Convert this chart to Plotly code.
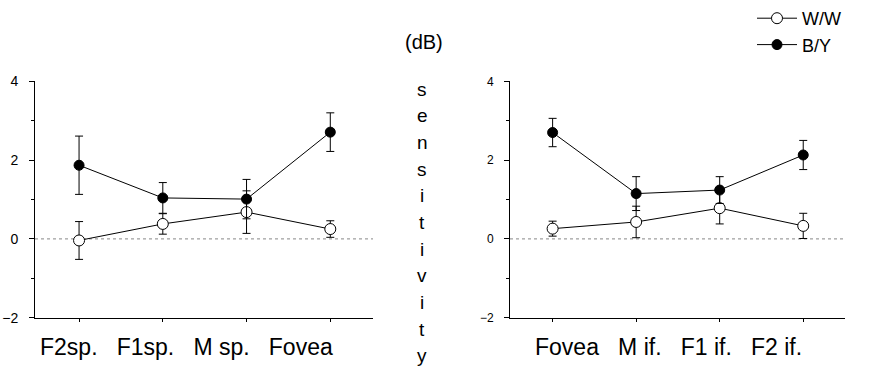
import plotly.graph_objects as go

# Left panel: spatial-frequency conditions
left_cats = ["F2sp.", "F1sp.", "M sp.", "Fovea"]
left_ww = [-0.04, 0.38, 0.68, 0.25]
left_ww_err = [0.48, 0.26, 0.54, 0.21]
left_by = [1.87, 1.04, 1.01, 2.71]
left_by_err = [0.74, 0.39, 0.50, 0.49]

# Right panel: inferior-field conditions
right_cats = ["Fovea", "M if.", "F1 if.", "F2 if."]
right_ww = [0.26, 0.43, 0.78, 0.33]
right_ww_err = [0.19, 0.40, 0.40, 0.32]
right_by = [2.70, 1.15, 1.24, 2.13]
right_by_err = [0.36, 0.43, 0.34, 0.37]

series_names = ["W/W", "B/Y"]
y_ticks = [-2, 0, 2, 4]
unit_label = "(dB)"
axis_word = "sensitivity"

W, H = 872, 377
BASE_FONT = "Liberation Sans, Arial, sans-serif"
NARROW_FONT = "Liberation Sans Narrow, Arial Narrow, Liberation Sans, sans-serif"

fig = go.Figure()


def add_panel(cats, ww, ww_err, by, by_err, xa, ya, show_legend):
    common = dict(xaxis=xa, yaxis=ya, mode="lines+markers",
                  line=dict(color="black", width=1))
    fig.add_trace(go.Scatter(
        x=cats, y=ww, name=series_names[0], showlegend=show_legend,
        marker=dict(symbol="circle", size=11, color="white",
                    line=dict(color="black", width=1)),
        error_y=dict(type="data", array=ww_err, color="black",
                     thickness=1, width=4),
        **common))
    fig.add_trace(go.Scatter(
        x=cats, y=by, name=series_names[1], showlegend=show_legend,
        marker=dict(symbol="circle", size=10, color="black",
                    line=dict(color="black", width=1)),
        error_y=dict(type="data", array=by_err, color="black",
                     thickness=1, width=4),
        **common))


add_panel(left_cats, left_ww, left_ww_err, left_by, left_by_err, "x", "y", True)
add_panel(right_cats, right_ww, right_ww_err, right_by, right_by_err, "x2", "y2", False)

y_dom = [1 - 322.5 / H, 1 - 71.5 / H]

xaxis_common = dict(type="category", showgrid=False, zeroline=False,
                    showline=True, linecolor="black", linewidth=1,
                    ticks="outside", ticklen=3, tickcolor="black",
                    showticklabels=False)
yaxis_common = dict(range=[-2, 4], tickvals=y_ticks, showgrid=False,
                    zeroline=False, showline=True, linecolor="black",
                    linewidth=1, ticks="outside", ticklen=5,
                    tickcolor="black",
                    minor=dict(dtick=1, ticks="outside", ticklen=3,
                               tickcolor="black"))

fig.update_layout(
    width=W, height=H,
    margin=dict(l=0, r=0, t=0, b=0),
    paper_bgcolor="white", plot_bgcolor="white",
    font=dict(family=BASE_FONT, color="black"),
    xaxis=dict(domain=[35 / W, 373 / W], range=[-0.526, 3.51],
               anchor="y", **xaxis_common),
    yaxis=dict(domain=y_dom, anchor="x", ticklabelstandoff=8,
               tickfont=dict(size=14), **yaxis_common),
    xaxis2=dict(domain=[510 / W, 845 / W], range=[-0.51, 3.50],
                anchor="y2", **xaxis_common),
    yaxis2=dict(domain=y_dom, anchor="x2", ticklabelstandoff=8,
                tickfont=dict(size=12), **yaxis_common),
    showlegend=True,
    legend=dict(x=752 / W, y=1 + 15 / H, xanchor="left", yanchor="top",
                font=dict(size=18, family=BASE_FONT),
                bgcolor="rgba(0,0,0,0)", itemwidth=40, tracegroupgap=0),
)

# Dotted zero reference line in each panel
for xr, yr in (("x domain", "y"), ("x2 domain", "y2")):
    fig.add_shape(type="line", xref=xr, yref=yr, x0=0, x1=1, y0=0, y1=0,
                  line=dict(color="#888888", width=1, dash="dot"),
                  layer="below")

annotations = []
# Condition labels under each panel
for cats, cx in ((left_cats, 186), (right_cats, 668)):
    annotations.append(dict(
        text="   ".join(cats), x=cx / W, y=1 - 354 / H, xref="paper",
        yref="paper", xanchor="center", yanchor="middle", showarrow=False,
        font=dict(size=23, family=NARROW_FONT)))

# Unit label and vertical axis word spelled letter by letter
annotations.append(dict(
    text=unit_label, x=424 / W, y=1 - 30 / H, xref="paper", yref="paper",
    xanchor="center", yanchor="middle", showarrow=False,
    font=dict(size=20)))
for i, ch in enumerate(axis_word):
    annotations.append(dict(
        text=ch, x=422 / W, y=1 - (80 + i * 28.3) / H, xref="paper",
        yref="paper", xanchor="center", yanchor="middle", showarrow=False,
        font=dict(size=19)))

fig.update_layout(annotations=annotations)

fig.write_html("out.html")
